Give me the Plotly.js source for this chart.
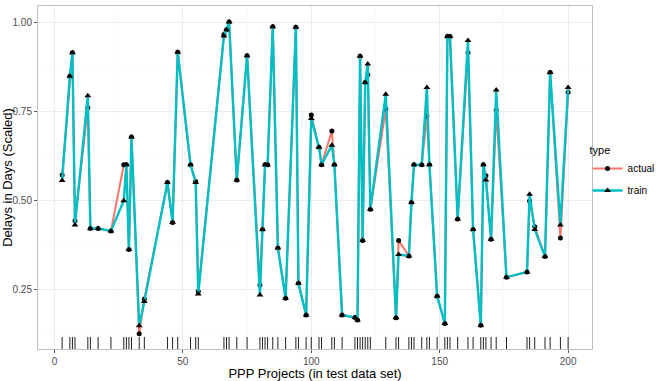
<!DOCTYPE html>
<html>
<head>
<meta charset="utf-8">
<script src="https://cdn.plot.ly/plotly-3.0.1.min.js"></script>
<style>html,body{margin:0;padding:0;background:#fff}#chart{width:663px;height:381px}</style>
</head>
<body>
<div id="chart"></div>
<script>
// Project index (x) for each point in the test data set
const projects = [3,6,7,8,13,14,17,22,27,28,29,30,33,35,44,46,48,53,55,56,66,67,68,71,75,80,81,82,83,85,87,90,94,95,98,100,103,104,108,109,112,117,118,119,120,121,122,123,129,133,134,138,139,140,143,145,146,149,152,153,154,157,161,163,166,167,168,170,172,176,184,185,187,191,193,197,200];

const trainValues = [0.555,0.848,0.914,0.430,0.793,0.420,0.420,0.413,0.498,0.599,0.361,0.677,0.147,0.215,0.549,0.437,0.915,0.599,0.549,0.236,0.961,0.978,1.000,0.556,0.905,0.233,0.417,0.599,0.599,0.987,0.365,0.224,0.985,0.266,0.177,0.729,0.648,0.599,0.654,0.599,0.177,0.170,0.163,0.904,0.386,0.830,0.882,0.474,0.797,0.169,0.347,0.343,0.493,0.599,0.599,0.816,0.599,0.230,0.153,0.959,0.959,0.447,0.948,0.417,0.148,0.599,0.556,0.390,0.809,0.283,0.298,0.516,0.417,0.341,0.858,0.430,0.816];

const actualValues = [0.570,0.848,0.914,0.442,0.759,0.420,0.420,0.413,0.599,0.599,0.361,0.677,0.124,0.222,0.549,0.437,0.915,0.599,0.552,0.244,0.965,0.978,1.000,0.556,0.905,0.261,0.417,0.599,0.599,0.987,0.365,0.224,0.985,0.266,0.177,0.739,0.648,0.599,0.694,0.599,0.177,0.170,0.163,0.904,0.386,0.830,0.852,0.474,0.756,0.169,0.386,0.343,0.493,0.599,0.599,0.736,0.599,0.230,0.153,0.959,0.959,0.447,0.914,0.417,0.148,0.599,0.568,0.390,0.753,0.283,0.298,0.497,0.425,0.341,0.858,0.393,0.803];

const seriesNames = ['actual','train'];
const xTickVals = [0,50,100,150,200];
const yTickVals = [0.25,0.50,0.75,1.00];
const yTickText = ['0.25','0.50','0.75','1.00'];

const FONT = 'Liberation Sans, Arial, sans-serif';

const traces = [
  {
    x: projects, y: actualValues, name: seriesNames[0], legendgroup: 'a', type: 'scatter', mode: 'lines+markers',
    line: {color: '#F8766D', width: 2},
    marker: {symbol: 'circle', size: 5, color: '#000'}
  },
  {
    x: projects, y: trainValues, name: seriesNames[1], legendgroup: 'b', type: 'scatter', mode: 'lines+markers',
    line: {color: '#00BFC4', width: 2.4},
    marker: {symbol: 'triangle-up', size: 6, color: '#000'}
  },
  {
    x: projects, y: projects.map(() => 0.0146), yaxis: 'y2', type: 'scatter', mode: 'markers',
    showlegend: false, hoverinfo: 'skip',
    marker: {symbol: 'line-ns-open', size: 10, color: '#222', line: {color: '#222', width: 1}}
  }
];

const layout = {
  width: 663, height: 381,
  margin: {l: 38, r: 71, t: 6, b: 32, pad: 0, autoexpand: false},
  paper_bgcolor: '#fff', plot_bgcolor: '#fff',
  font: {family: FONT, size: 10, color: '#4d4d4d'},
  showlegend: true,
  legend: {
    x: 0.992, y: 0.61, xanchor: 'left', yanchor: 'top',
    title: {text: 'type', font: {family: FONT, size: 11, color: '#000'}},
    font: {family: FONT, size: 10, color: '#000'},
    bgcolor: 'rgba(0,0,0,0)', traceorder: 'grouped', tracegroupgap: 3, itemwidth: 30
  },
  xaxis: {
    range: [-6.4, 209.3], tickvals: xTickVals, ticks: 'outside', ticklen: 3, tickcolor: '#555',
    showgrid: true, gridcolor: '#ececec', gridwidth: 1,
    minor: {dtick: 25, tick0: 0, showgrid: true, gridcolor: '#f6f6f6', gridwidth: 0.6},
    showline: true, mirror: true, linecolor: '#c0c0c0', linewidth: 1, zeroline: false,
    tickfont: {family: FONT, size: 10, color: '#4d4d4d'},
    title: {text: 'PPP Projects (in test data set)', font: {family: FONT, size: 13, color: '#000'}, standoff: 4}
  },
  yaxis: {
    range: [0.0815, 1.045], tickvals: yTickVals, ticktext: yTickText, ticks: 'outside', ticklen: 3, tickcolor: '#555',
    showgrid: true, gridcolor: '#ececec', gridwidth: 1,
    minor: {dtick: 0.125, tick0: 0, showgrid: true, gridcolor: '#f6f6f6', gridwidth: 0.6},
    showline: true, mirror: true, linecolor: '#c0c0c0', linewidth: 1, zeroline: false,
    tickfont: {family: FONT, size: 10, color: '#4d4d4d'},
    title: {text: 'Delays in Days (Scaled)', font: {family: FONT, size: 13, color: '#000'}, standoff: 4}
  },
  yaxis2: {overlaying: 'y', range: [0, 1], visible: false, fixedrange: true}
};

Plotly.newPlot('chart', traces, layout, {displayModeBar: false, staticPlot: true});
</script>
</body>
</html>
